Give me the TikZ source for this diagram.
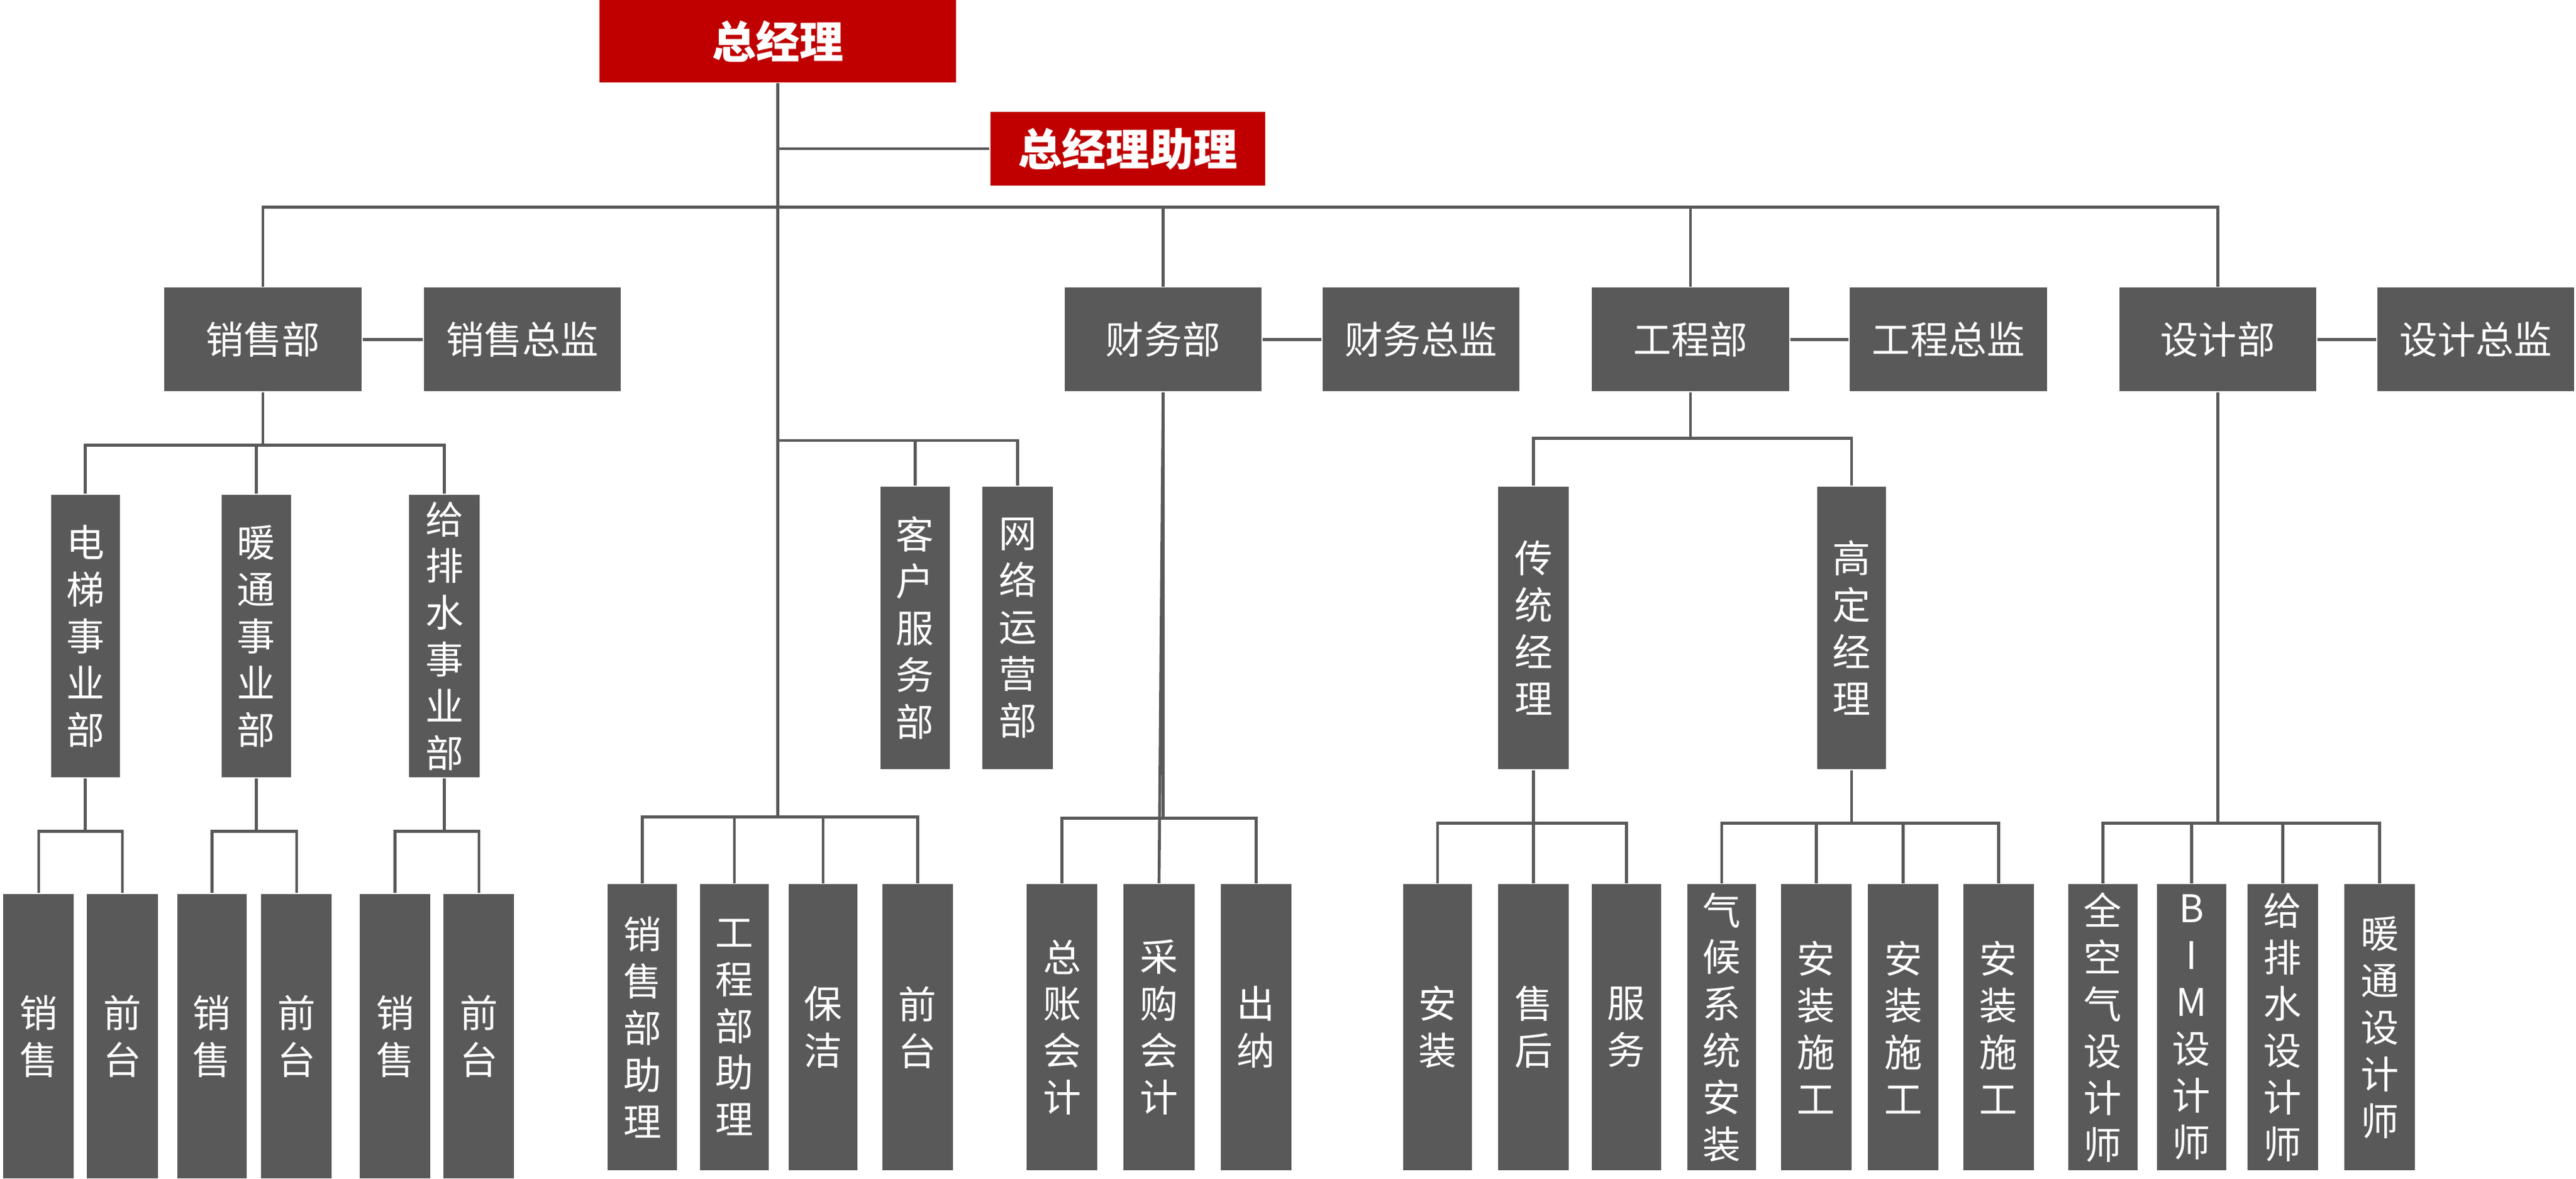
\documentclass[tikz,border=0pt]{standalone}
\usepackage{fontspec}
\setmainfont{Noto Sans CJK SC}
\definecolor{boxgray}{HTML}{595959}
\definecolor{bossred}{HTML}{C00000}
\tikzset{
  box/.style={fill=boxgray, text=white, inner sep=0pt, align=center,
    font=\fontsize{6.6}{8.1}\selectfont},
  redbox/.style={box, fill=bossred, font=\fontsize{7.6}{9}\selectfont\bfseries},
  link/.style={draw=boxgray, line width=0.5pt}
}
% box by corners: name, x1, y1, x2, y2, style, text
\newcommand{\bx}[7]{\node[#6, minimum width={(#4-#2)*0.01cm}, minimum height={(#5-#3)*0.01cm}]
  (#1) at ({(#2+#4)/2},{(#3+#5)/2}) {#7};}
\begin{document}
\begin{tikzpicture}[x=0.01cm, y=-0.01cm]
  \useasboundingbox (0,0) rectangle (1568,717);
  % top
  \bx{gm}{365}{0}{582}{50}{redbox}{总经理}
  \bx{asst}{603}{68}{770}{113}{redbox}{总经理助理}
  % departments
  \bx{sales}{100}{175}{220}{238}{box}{销售部}
  \bx{salesd}{258}{175}{378}{238}{box}{销售总监}
  \bx{fin}{648}{175}{768}{238}{box}{财务部}
  \bx{find}{805}{175}{925}{238}{box}{财务总监}
  \bx{eng}{969}{175}{1089}{238}{box}{工程部}
  \bx{engd}{1126}{175}{1246}{238}{box}{工程总监}
  \bx{des}{1290}{175}{1410}{238}{box}{设计部}
  \bx{desd}{1447}{175}{1567}{238}{box}{设计总监}
  % sales units
  \bx{elev}{31}{301}{73}{473}{box}{电\\梯\\事\\业\\部}
  \bx{hvac}{135}{301}{177}{473}{box}{暖\\通\\事\\业\\部}
  \bx{plumb}{249}{301}{292}{473}{box}{给\\排\\水\\事\\业\\部}
  \bx{s1}{2}{544}{45}{717}{box}{销\\售}
  \bx{f1}{53}{544}{96}{717}{box}{前\\台}
  \bx{s2}{108}{544}{150}{717}{box}{销\\售}
  \bx{f2}{159}{544}{202}{717}{box}{前\\台}
  \bx{s3}{219}{544}{262}{717}{box}{销\\售}
  \bx{f3}{270}{544}{313}{717}{box}{前\\台}
  % office
  \bx{cust}{536}{296}{578}{468}{box}{客\\户\\服\\务\\部}
  \bx{net}{598}{296}{641}{468}{box}{网\\络\\运\\营\\部}
  \bx{sa}{370}{538}{412}{712}{box}{销\\售\\部\\助\\理}
  \bx{ea}{426}{538}{468}{712}{box}{工\\程\\部\\助\\理}
  \bx{clean}{480}{538}{522}{712}{box}{保\\洁}
  \bx{desk}{537}{538}{580}{712}{box}{前\\台}
  % finance
  \bx{ledger}{625}{538}{668}{712}{box}{总\\账\\会\\计}
  \bx{purch}{684}{538}{727}{712}{box}{采\\购\\会\\计}
  \bx{cash}{743}{538}{786}{712}{box}{出\\纳}
  % engineering
  \bx{trad}{912}{296}{955}{468}{box}{传\\统\\经\\理}
  \bx{high}{1106}{296}{1148}{468}{box}{高\\定\\经\\理}
  \bx{inst}{854}{538}{896}{712}{box}{安\\装}
  \bx{after}{912}{538}{955}{712}{box}{售\\后}
  \bx{serv}{969}{538}{1011}{712}{box}{服\\务}
  \bx{clim}{1027}{538}{1069}{712}{box}{气\\候\\系\\统\\安\\装}
  \bx{w1}{1084}{538}{1127}{712}{box}{安\\装\\施\\工}
  \bx{w2}{1137}{538}{1180}{712}{box}{安\\装\\施\\工}
  \bx{w3}{1195}{538}{1238}{712}{box}{安\\装\\施\\工}
  % design
  \bx{air}{1259}{538}{1301}{712}{box}{全\\空\\气\\设\\计\\师}
  \bx{bim}{1313}{538}{1355}{712}{box}{B\\I\\M\\设\\计\\师}
  \bx{wat}{1368}{538}{1411}{712}{box}{给\\排\\水\\设\\计\\师}
  \bx{hv}{1427}{538}{1470}{712}{box}{暖\\通\\设\\计\\师}

  % connectors
  \coordinate (trunk) at (gm.south |- 0,126);
  \coordinate (hub) at (gm.south |- 0,497);
  \draw[link] (gm.south) -- (hub);
  \draw[link] (gm.south |- asst.west) -- (asst.west);
  \draw[link] (sales.north) |- (trunk) -| (des.north);
  \draw[link] (trunk) -| (fin.north);
  \draw[link] (trunk) -| (eng.north);
  \foreach \a/\b in {sales/salesd, fin/find, eng/engd, des/desd}
    \draw[link] (\a.east) -- (\b.west);
  \draw[link] (sales.south) -- ++(0,32) -| (elev.north);
  \draw[link] (sales.south) ++(0,32) -| (plumb.north);
  \draw[link] (sales.south) ++(0,32) -| (hvac.north);
  \foreach \u/\a/\b in {elev/s1/f1, hvac/s2/f2, plumb/s3/f3} {
    \draw[link] (\u.south) -- ++(0,32) -| (\a.north);
    \draw[link] (\u.south) ++(0,32) -| (\b.north);
  }
  \draw[link] (gm.south |- 0,268) -| (net.north);
  \draw[link] (cust.north |- 0,268) -- (cust.north);
  \draw[link] (hub) -| (sa.north);
  \draw[link] (hub) -| (ea.north);
  \draw[link] (hub) -| (clean.north);
  \draw[link] (hub) -| (desk.north);
  \draw[link] (fin.south) -- ++(0,259) -| (ledger.north);
  \draw[link] (fin.south) ++(0,259) -| (cash.north);
  \draw[link] (fin.south) -- (purch.north);
  \draw[link] (eng.south) -- ++(0,28) -| (trad.north);
  \draw[link] (eng.south) ++(0,28) -| (high.north);
  \draw[link] (trad.south) -- ++(0,32) -| (inst.north);
  \draw[link] (trad.south) ++(0,32) -| (serv.north);
  \draw[link] (trad.south) -- (after.north);
  \draw[link] (high.south) -- ++(0,32) -| (clim.north);
  \draw[link] (high.south) ++(0,32) -| (w3.north);
  \draw[link] (high.south) ++(0,32) -| (w1.north);
  \draw[link] (high.south) ++(0,32) -| (w2.north);
  \draw[link] (des.south) -- ++(0,262) -| (air.north);
  \draw[link] (des.south) ++(0,262) -| (hv.north);
  \draw[link] (des.south) ++(0,262) -| (bim.north);
  \draw[link] (des.south) ++(0,262) -| (wat.north);
\end{tikzpicture}
\end{document}
